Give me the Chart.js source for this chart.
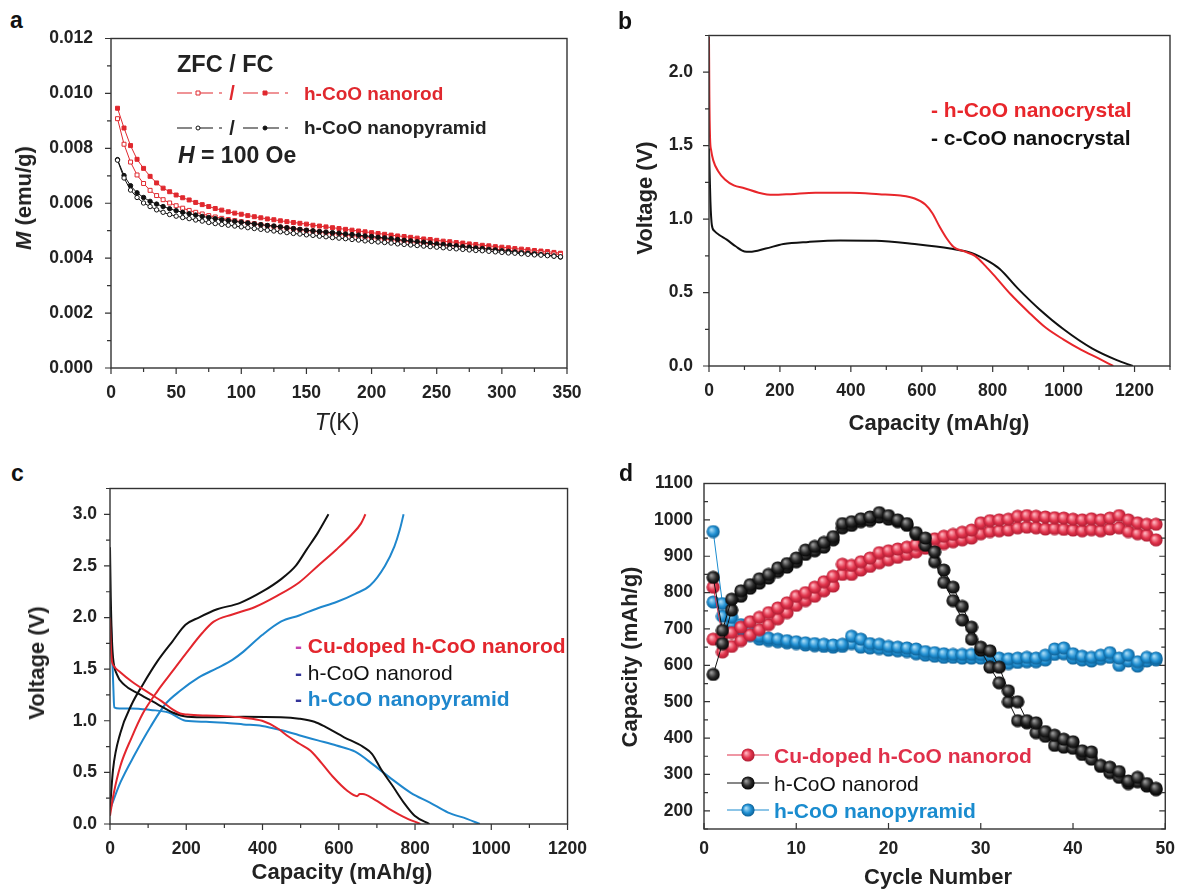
<!DOCTYPE html>
<html>
<head>
<meta charset="utf-8">
<script src="https://cdn.jsdelivr.net/npm/chart.js@4.4.0/dist/chart.umd.min.js"></script>
<style>
  html, body { margin: 0; padding: 0; background: #fff; overflow: hidden; }
  body { width: 1185px; height: 891px; position: relative; font-family: "Liberation Sans", Arial, sans-serif; color: #222; }
  canvas { position: absolute; }
  .t { position: absolute; white-space: nowrap; line-height: 1; }
  .lbl { font-weight: bold; font-size: 23px; color: #111; }
  .ax { font-weight: bold; font-size: 22px; transform: translate(-50%, -50%); color: #222; }
  .ay { font-weight: bold; font-size: 22px; transform: translate(-50%, -50%) rotate(-90deg); color: #222; }
  .lg { transform: translateY(-50%); font-weight: bold; }
</style>
</head>
<body>
<canvas id="chartA"></canvas>
<canvas id="chartB"></canvas>
<canvas id="chartC"></canvas>
<canvas id="chartD"></canvas>

<!-- panel letters -->
<div class="t lbl" style="left:10px; top:9px;">a</div>
<div class="t lbl" style="left:618px; top:10px;">b</div>
<div class="t lbl" style="left:11px; top:462px;">c</div>
<div class="t lbl" style="left:619px; top:462px;">d</div>

<!-- axis titles -->
<div class="t ay" style="left:24px; top:198px;"><i>M</i> (emu/g)</div>
<div class="t ax" style="left:337px; top:422px; font-weight:normal; font-size:23px;"><i>T</i>(K)</div>
<div class="t ay" style="left:645px; top:198px;">Voltage (V)</div>
<div class="t ax" style="left:939px; top:423px;">Capacity (mAh/g)</div>
<div class="t ay" style="left:37px; top:663px;">Voltage (V)</div>
<div class="t ax" style="left:342px; top:872px;">Capacity (mAh/g)</div>
<div class="t ay" style="left:630px; top:657px;">Capacity (mAh/g)</div>
<div class="t ax" style="left:938px; top:877px;">Cycle Number</div>

<!-- legend a -->
<div class="t lg" style="left:177px; top:65px; font-size:23.5px;">ZFC / FC</div>
<div class="t ax" style="left:232px; top:93px; font-size:20px; color:#e0282e;">/</div>
<div class="t ax" style="left:232px; top:128px; font-size:20px; color:#222;">/</div>
<div class="t lg" style="left:304px; top:93px; font-size:19px; color:#e0282e;">h-CoO nanorod</div>
<div class="t lg" style="left:304px; top:127px; font-size:19px; color:#222;">h-CoO nanopyramid</div>
<div class="t lg" style="left:178px; top:155px; font-size:23px;"><i>H</i> = 100 Oe</div>

<!-- legend b -->
<div class="t lg" style="left:931px; top:109px; font-size:21px; color:#e8262b;">- h-CoO nanocrystal</div>
<div class="t lg" style="left:931px; top:137px; font-size:21px; color:#111;">- c-CoO nanocrystal</div>

<!-- legend c -->
<div class="t lg" style="left:295px; top:645px; font-size:21px; color:#e3262d;"><span style="color:#c43fb0">-</span> Cu-doped h-CoO nanorod</div>
<div class="t lg" style="left:295px; top:672px; font-size:21px; font-weight:normal; color:#111;"><span style="color:#333399; font-weight:bold">-</span> h-CoO nanorod</div>
<div class="t lg" style="left:295px; top:698px; font-size:21px; color:#1f87cd;"><span style="color:#333399">-</span> h-CoO nanopyramid</div>

<!-- legend d -->
<div class="t lg" style="left:774px; top:755px; font-size:21px; color:#e0304a;">Cu-doped h-CoO nanorod</div>
<div class="t lg" style="left:774px; top:783px; font-size:21px; font-weight:normal; color:#111;">h-CoO nanorod</div>
<div class="t lg" style="left:774px; top:810px; font-size:21px; color:#1a8ccf;">h-CoO nanopyramid</div>

<script>
// ---- panel a : magnetization vs temperature ----
const tempK = [5,10,15,20,25,30,35,40,45,50,55,60,65,70,75,80,85,90,95,100,
  105,110,115,120,125,130,135,140,145,150,155,160,165,170,175,180,185,190,195,200,
  205,210,215,220,225,230,235,240,245,250,255,260,265,270,275,280,285,290,295,300,
  305,310,315,320,325,330,335,340,345];
const aRodFC = [0.00946,0.00874,0.00810,0.00760,0.00727,0.00698,0.00674,0.00655,0.00642,0.00630,
  0.00620,0.00612,0.00603,0.00595,0.00588,0.00581,0.00575,0.00569,0.00564,0.00560,
  0.00555,0.00551,0.00547,0.00543,0.00540,0.00536,0.00533,0.00530,0.00527,0.00524,
  0.00520,0.00517,0.00514,0.00511,0.00508,0.00505,0.00502,0.00499,0.00496,0.00493,
  0.00490,0.00487,0.00484,0.00481,0.00479,0.00476,0.00473,0.00470,0.00468,0.00465,
  0.00462,0.00460,0.00457,0.00455,0.00452,0.00450,0.00447,0.00445,0.00442,0.00440,
  0.00438,0.00435,0.00433,0.00431,0.00428,0.00426,0.00424,0.00421,0.00418];
const aRodZFC = [0.00908,0.00815,0.00750,0.00703,0.00672,0.00647,0.00628,0.00613,0.00601,0.00591,
  0.00582,0.00574,0.00567,0.00561,0.00555,0.00550,0.00545,0.00541,0.00537,0.00533,
  0.00529,0.00526,0.00522,0.00519,0.00516,0.00513,0.00510,0.00507,0.00504,0.00501,
  0.00498,0.00496,0.00493,0.00490,0.00488,0.00485,0.00482,0.00480,0.00477,0.00475,
  0.00472,0.00470,0.00467,0.00465,0.00462,0.00460,0.00457,0.00455,0.00452,0.00450,
  0.00448,0.00446,0.00444,0.00442,0.00440,0.00438,0.00436,0.00434,0.00432,0.00430,
  0.00428,0.00426,0.00424,0.00422,0.00421,0.00419,0.00417,0.00415,0.00414];
const aPyrFC = [0.00759,0.00701,0.00664,0.00638,0.00621,0.00607,0.00597,0.00588,0.00580,0.00573,
  0.00567,0.00562,0.00557,0.00552,0.00548,0.00544,0.00540,0.00537,0.00534,0.00531,
  0.00528,0.00525,0.00522,0.00519,0.00517,0.00514,0.00511,0.00508,0.00505,0.00502,
  0.00500,0.00497,0.00495,0.00493,0.00491,0.00488,0.00486,0.00484,0.00481,0.00479,
  0.00476,0.00474,0.00471,0.00468,0.00465,0.00463,0.00460,0.00458,0.00455,0.00452,
  0.00450,0.00447,0.00445,0.00442,0.00440,0.00437,0.00435,0.00432,0.00430,0.00427,
  0.00425,0.00423,0.00420,0.00418,0.00416,0.00413,0.00411,0.00408,0.00404];
const aPyrZFC = [0.00757,0.00692,0.00648,0.00621,0.00601,0.00588,0.00576,0.00567,0.00559,0.00553,
  0.00548,0.00544,0.00539,0.00535,0.00530,0.00526,0.00523,0.00520,0.00517,0.00514,
  0.00511,0.00508,0.00505,0.00502,0.00499,0.00496,0.00493,0.00490,0.00488,0.00485,
  0.00483,0.00480,0.00478,0.00475,0.00473,0.00471,0.00468,0.00466,0.00463,0.00461,
  0.00459,0.00457,0.00455,0.00452,0.00450,0.00448,0.00446,0.00444,0.00442,0.00440,
  0.00438,0.00436,0.00434,0.00432,0.00430,0.00428,0.00427,0.00425,0.00423,0.00421,
  0.00419,0.00418,0.00416,0.00414,0.00412,0.00411,0.00409,0.00407,0.00405];
const aXTicks = [0, 50, 100, 150, 200, 250, 300, 350];
const aYTicks = [0, 0.002, 0.004, 0.006, 0.008, 0.010, 0.012];

// ---- panel b : first discharge ----
const bHexCap = [0,1,3,6,12,25,45,70,100,140,180,230,300,400,480,540,580,610,630,650,670,690,720,750,780,810,850,900,950,1000,1050,1100,1140];
const bHexVolt = [2.24,1.85,1.55,1.47,1.40,1.33,1.27,1.23,1.21,1.18,1.165,1.17,1.18,1.18,1.17,1.16,1.14,1.10,1.04,0.95,0.87,0.81,0.78,0.75,0.68,0.60,0.49,0.37,0.26,0.18,0.11,0.05,0.0];
const bCubCap = [0,2,4,8,15,30,50,75,100,115,160,210,280,370,470,580,680,740,790,820,870,930,1000,1080,1150,1195];
const bCubVolt = [1.48,1.30,1.12,0.96,0.92,0.89,0.86,0.815,0.78,0.778,0.80,0.83,0.845,0.855,0.853,0.83,0.80,0.77,0.71,0.66,0.53,0.39,0.25,0.12,0.04,0.0];
const bXTicks = [0, 200, 400, 600, 800, 1000, 1200];
const bYTicks = [0, 0.5, 1.0, 1.5, 2.0];

// ---- panel c : discharge / charge profiles ----
const cCuDisCap = [0,2,5,10,27,57,106,135,164,184,203,252,301,350,399,438,467,496,526,555,584,623,648,655,663,692,731,770,814];
const cCuDisV = [2.0,1.75,1.58,1.53,1.47,1.38,1.26,1.19,1.11,1.07,1.06,1.05,1.045,1.03,1.0,0.93,0.85,0.78,0.71,0.59,0.46,0.32,0.27,0.29,0.29,0.24,0.15,0.07,0.0];
const cCuChgCap = [0,10,27,57,86,125,164,203,242,272,321,379,438,496,545,594,633,658,670];
const cCuChgV = [0.08,0.30,0.56,0.84,1.07,1.29,1.48,1.67,1.85,1.96,2.03,2.10,2.21,2.34,2.50,2.66,2.80,2.91,3.0];
const cRodDisCap = [0,2,5,8,18,37,76,125,164,203,262,350,448,496,536,565,614,663,687,711,741,770,799,838];
const cRodDisV = [2.68,2.2,1.8,1.61,1.45,1.35,1.26,1.16,1.08,1.04,1.035,1.04,1.035,1.02,0.99,0.94,0.84,0.75,0.68,0.53,0.37,0.21,0.08,0.0];
const cRodChgCap = [0,3,8,27,57,86,125,164,198,233,281,340,399,448,487,516,545,573];
const cRodChgV = [0.14,0.30,0.53,0.88,1.16,1.35,1.58,1.77,1.93,2.0,2.08,2.14,2.25,2.37,2.50,2.66,2.82,3.0];
const cPyrDisCap = [0,3,6,9,11,25,57,106,154,198,252,301,350,399,448,496,545,594,643,692,741,790,838,887,936,970];
const cPyrDisV = [2.12,1.9,1.6,1.30,1.13,1.12,1.12,1.105,1.08,1.00,0.99,0.98,0.965,0.95,0.91,0.86,0.81,0.76,0.70,0.57,0.43,0.30,0.21,0.11,0.05,0.0];
const cPyrChgCap = [0,27,66,106,145,184,233,281,321,350,399,448,496,545,594,643,682,721,746,760,770];
const cPyrChgV = [0.14,0.40,0.68,0.94,1.16,1.29,1.42,1.51,1.59,1.67,1.83,1.96,2.02,2.09,2.15,2.23,2.31,2.50,2.69,2.85,3.0];
const cXTicks = [0, 200, 400, 600, 800, 1000, 1200];
const cYTicks = [0, 0.5, 1.0, 1.5, 2.0, 2.5, 3.0];

// ---- panel d : cycling ----
const cycleNo = [1,2,3,4,5,6,7,8,9,10,11,12,13,14,15,16,17,18,19,20,21,22,23,24,25,
  26,27,28,29,30,31,32,33,34,35,36,37,38,39,40,41,42,43,44,45,46,47,48,49];
const dCuHigh = [815,683,690,705,720,732,745,758,772,790,800,815,830,845,878,875,885,895,910,915,920,925,932,940,948,
  955,960,966,972,992,998,1000,1002,1010,1012,1010,1008,1006,1005,1002,1000,1003,1000,1005,1012,1000,992,988,988];
const dCuLow = [672,637,652,668,684,698,712,728,745,765,778,790,805,818,850,850,862,872,882,890,897,905,912,922,928,
  935,940,945,950,962,968,970,972,978,980,978,975,976,974,972,970,973,970,975,978,968,962,958,945];
const dRodHigh = [842,696,782,805,822,838,850,868,880,895,917,927,938,954,990,995,1003,1008,1020,1012,1000,990,965,950,912,
  862,815,762,705,650,640,595,530,500,448,442,418,408,397,390,365,362,325,320,308,282,292,275,262];
const dRodLow = [575,660,752,790,812,826,840,858,870,885,905,915,925,945,978,985,995,998,1008,1002,995,985,960,930,885,
  828,778,725,672,642,595,552,500,448,442,415,405,380,375,372,355,342,322,305,292,275,280,268,258];
const dPyrHigh = [968,770,732,712,692,680,675,672,668,665,662,660,658,656,658,680,672,660,658,652,650,648,645,638,635,
  632,630,630,630,630,628,620,618,620,622,620,628,645,648,632,625,622,628,635,620,628,610,622,620];
const dPyrLow = [774,735,714,700,682,672,668,665,662,660,656,654,652,650,652,660,650,648,646,642,640,638,632,628,625,
  622,622,620,620,620,615,608,605,608,610,610,615,630,632,620,615,612,618,622,600,612,598,612,615];
const dXTicks = [0, 10, 20, 30, 40, 50];
const dYTicks = [200, 300, 400, 500, 600, 700, 800, 900, 1000, 1100];

const RED_A = "#e0282e", RED_B = "#e8262b", RED_C = "#e3262d", RED_D = "#e0304a";
const BLUE_C = "#1f87cd", BLUE_D = "#1a8ccf", BLK = "#111";

const YW = 80, PT = 20, XH = 50;

// box + tick marks drawn from the library scales
const frame = {
  id: "frame",
  afterDatasetsDraw(chart, args, o) {
    const { ctx, chartArea: a, scales: { x, y } } = chart;
    ctx.save();
    ctx.strokeStyle = "#333";
    ctx.lineWidth = 1.4;
    ctx.strokeRect(a.left, a.top, a.right - a.left, a.bottom - a.top);
    const s = o.inward ? -1 : 1;
    ctx.lineWidth = 1.2;
    ctx.beginPath();
    const xt = (v, len) => {
      const p = x.getPixelForValue(v);
      ctx.moveTo(p, a.bottom);
      ctx.lineTo(p, a.bottom + s * len);
    };
    const yt = (v, len) => {
      const p = y.getPixelForValue(v);
      ctx.moveTo(a.left, p);
      ctx.lineTo(a.left - s * len, p);
      if (o.mirror) {
        ctx.moveTo(a.right, p);
        ctx.lineTo(a.right + s * len, p);
      }
    };
    x.ticks.forEach((t) => xt(t.value, 6));
    y.ticks.forEach((t) => yt(t.value, 6));
    if (o.xMinor) for (let i = 0; x.min + i * o.xMinor <= x.max + 1e-9; i++) xt(x.min + i * o.xMinor, 4);
    if (o.yMinor) for (let i = 0; y.min + i * o.yMinor <= y.max + 1e-9; i++) yt(y.min + i * o.yMinor, 4);
    ctx.stroke();
    ctx.restore();
  },
};

function mark(ctx, style, x, y, r, stroke, fill) {
  ctx.setLineDash([]);
  ctx.lineWidth = 1;
  ctx.strokeStyle = stroke;
  ctx.fillStyle = fill;
  if (style instanceof HTMLCanvasElement) {
    ctx.drawImage(style, x - style.width / 2, y - style.height / 2);
    return;
  }
  ctx.beginPath();
  if (style === "rect") ctx.rect(x - r, y - r, 2 * r, 2 * r);
  else ctx.arc(x, y, r, 0, Math.PI * 2);
  ctx.fill();
  ctx.stroke();
}

// legend line samples (positions are page coordinates)
const samples = {
  id: "samples",
  afterDraw(chart, args, o) {
    if (!o.items) return;
    const ctx = chart.ctx;
    const ox = chart.canvas.offsetLeft, oy = chart.canvas.offsetTop;
    ctx.save();
    o.items.forEach((it) => {
      ctx.strokeStyle = it.color;
      ctx.lineWidth = it.lw || 1.2;
      ctx.setLineDash(it.dash || []);
      ctx.beginPath();
      ctx.moveTo(it.x1 - ox, it.y - oy);
      ctx.lineTo(it.x2 - ox, it.y - oy);
      ctx.stroke();
      mark(ctx, it.style, it.mx - ox, it.y - oy, it.r, it.color, it.fill);
    });
    ctx.restore();
  },
};

function ball(base, light, edge) {
  const c = document.createElement("canvas");
  c.width = 14;
  c.height = 14;
  const g = c.getContext("2d");
  const grad = g.createRadialGradient(5, 5, 0.5, 7, 7, 7);
  grad.addColorStop(0, light);
  grad.addColorStop(0.55, base);
  grad.addColorStop(1, edge);
  g.fillStyle = grad;
  g.beginPath();
  g.arc(7, 7, 6.6, 0, Math.PI * 2);
  g.fill();
  return c;
}

function axis(ax, dir) {
  return {
    type: "linear",
    min: ax.min,
    max: ax.max,
    grid: { display: false, drawTicks: false },
    border: { display: false },
    afterBuildTicks: (s) => { s.ticks = ax.ticks.map((v) => ({ value: v })); },
    afterFit: (s) => { if (dir === "x") s.height = XH; else s.width = YW; },
    ticks: {
      color: "#222",
      font: { family: "Liberation Sans", size: 17.5, weight: "bold" },
      padding: ax.pad,
      autoSkip: false,
      maxRotation: 0,
      callback: (v) => ax.fmt(v),
    },
  };
}

function panel(id, box, pr, xAx, yAx, datasets, frameOpts, sampleOpts) {
  const cv = document.getElementById(id);
  const w = YW + (box.R - box.L) + pr;
  const h = PT + (box.B - box.T) + XH;
  cv.width = w;
  cv.height = h;
  cv.style.width = w + "px";
  cv.style.height = h + "px";
  cv.style.left = box.L - YW + "px";
  cv.style.top = box.T - PT + "px";
  return new Chart(cv, {
    type: "scatter",
    data: { datasets },
    options: {
      responsive: false,
      animation: false,
      layout: { padding: { top: PT, right: pr, left: 0, bottom: 0 } },
      plugins: {
        legend: { display: false },
        tooltip: { enabled: false },
        frame: frameOpts,
        samples: sampleOpts || {},
      },
      scales: { x: axis(xAx, "x"), y: axis(yAx, "y") },
    },
    plugins: [frame, samples],
  });
}

const pts = (xs, ys) => xs.map((v, i) => ({ x: v, y: ys[i] }));

// ---- a ----
function magSet(ys, color, style, r, fill) {
  return {
    data: pts(tempK, ys), showLine: true, borderColor: color, borderWidth: 1,
    pointStyle: style, pointRadius: r, pointBorderWidth: 1,
    pointBorderColor: color, pointBackgroundColor: fill,
  };
}
panel("chartA", { L: 111, T: 30, R: 567, B: 368 }, 30,
  { min: 0, max: 350, ticks: aXTicks, pad: 15, fmt: (v) => String(v) },
  { min: 0, max: 0.012, ticks: aYTicks, pad: 18, fmt: (v) => v.toFixed(3) },
  [
    magSet(aPyrZFC, BLK, "circle", 2.2, "#fff"),
    magSet(aPyrFC, BLK, "circle", 2.2, BLK),
    magSet(aRodZFC, RED_A, "rect", 2.8, "#fff"),
    magSet(aRodFC, RED_A, "rect", 2.8, RED_A),
  ],
  { xMinor: 25, yMinor: 0.001 },
  { items: [
    { x1: 177, x2: 222, y: 93, color: RED_A, dash: [15, 6], mx: 198, style: "rect", r: 2, fill: "#fff" },
    { x1: 243, x2: 288, y: 93, color: RED_A, dash: [15, 6], mx: 265, style: "rect", r: 2, fill: RED_A },
    { x1: 177, x2: 222, y: 128, color: BLK, dash: [15, 6], mx: 198, style: "circle", r: 2, fill: "#fff" },
    { x1: 243, x2: 288, y: 128, color: BLK, dash: [15, 6], mx: 265, style: "circle", r: 2, fill: BLK },
  ] }
);

// ---- b ----
function curve(xs, ys, color, w) {
  return {
    data: pts(xs, ys), showLine: true, borderColor: color, borderWidth: w || 2,
    pointRadius: 0, cubicInterpolationMode: "monotone",
  };
}
panel("chartB", { L: 709, T: 29, R: 1170, B: 366 }, 15,
  { min: 0, max: 1300, ticks: bXTicks, pad: 15, fmt: (v) => String(v) },
  { min: 0, max: 2.25, ticks: bYTicks, pad: 16, fmt: (v) => v.toFixed(1) },
  [curve(bHexCap, bHexVolt, RED_B), curve(bCubCap, bCubVolt, BLK)],
  { xMinor: 100, yMinor: 0.25 }
);

// ---- c ----
panel("chartC", { L: 110, T: 485, R: 572, B: 824 }, 30,
  { min: 0, max: 1200, ticks: cXTicks, pad: 15, fmt: (v) => String(v) },
  { min: 0, max: 3.25, ticks: cYTicks, pad: 13, fmt: (v) => v.toFixed(1) },
  [
    curve(cCuDisCap, cCuDisV, RED_C),
    curve(cCuChgCap, cCuChgV, RED_C),
    curve(cRodDisCap, cRodDisV, BLK),
    curve(cRodChgCap, cRodChgV, BLK),
    curve(cPyrDisCap, cPyrDisV, BLUE_C),
    curve(cPyrChgCap, cPyrChgV, BLUE_C),
  ],
  { xMinor: 100, yMinor: 0.25 }
);

// ---- d ----
const ballRed = ball("#e2344c", "#ffb3bd", "#a81a30");
const ballBlk = ball("#2a2a2a", "#9a9a9a", "#000");
const ballBlue = ball("#1f8fd2", "#a8dcf7", "#0b5a8e");
function cyc(ys, color, img) {
  return {
    data: pts(cycleNo, ys), showLine: true, borderColor: color, borderWidth: 1,
    pointStyle: img, pointRadius: 6,
  };
}
panel("chartD", { L: 704, T: 482, R: 1175, B: 829 }, 10,
  { min: 0, max: 50, ticks: dXTicks, pad: 10, fmt: (v) => String(v) },
  { min: 150, max: 1100, ticks: dYTicks, pad: 11, fmt: (v) => String(v) },
  [
    cyc(dRodHigh, BLK, ballBlk),
    cyc(dRodLow, BLK, ballBlk),
    cyc(dCuHigh, RED_D, ballRed),
    cyc(dCuLow, RED_D, ballRed),
    cyc(dPyrHigh, BLUE_D, ballBlue),
    cyc(dPyrLow, BLUE_D, ballBlue),
  ],
  { inward: true, mirror: true, yMinor: 50 },
  { items: [
    { x1: 727, x2: 769, y: 755, color: RED_D, mx: 748, style: ballRed },
    { x1: 727, x2: 769, y: 783, color: BLK, mx: 748, style: ballBlk },
    { x1: 727, x2: 769, y: 810, color: BLUE_D, mx: 748, style: ballBlue },
  ] }
);
</script>
</body>
</html>
